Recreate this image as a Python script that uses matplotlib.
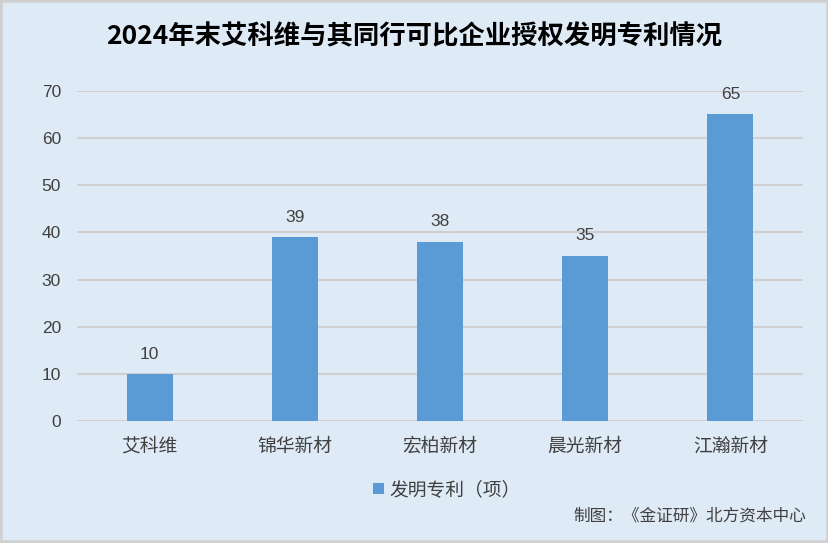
import matplotlib
matplotlib.use("Agg")
import matplotlib.pyplot as plt
from matplotlib.patches import Rectangle

plt.rcParams['font.family'] = ['Noto Sans CJK SC', 'DejaVu Sans']

categories = ["艾科维", "锦华新材", "宏柏新材", "晨光新材", "江瀚新材"]
values = [10, 39, 38, 35, 65]
series_name = "发明专利（项）"
title = "2024年末艾科维与其同行可比企业授权发明专利情况"
source = "制图：《金证研》北方资本中心"

bg = "#DEEAF6"
bar_color = "#5B9BD5"
num_font = ['Liberation Sans', 'Noto Sans CJK SC']

fig = plt.figure(figsize=(8.29, 5.43), dpi=100)
fig.patch.set_facecolor(bg)
fig.patches.append(Rectangle((0, 0), 1, 1, transform=fig.transFigure, fill=False,
                             edgecolor="#D0D0D0", linewidth=4, zorder=10))

ax = fig.add_axes([0.0929, 0.2241, 0.8758, 0.609])
ax.set_facecolor(bg)
x = list(range(len(categories)))
bars = ax.bar(x, values, width=0.317, color=bar_color, zorder=3, label=series_name)
ax.set_xlim(-0.5, len(categories) - 0.5)
ax.set_ylim(0, 70)
ax.set_yticks(range(0, 71, 10))
ax.grid(axis='y', color="#D0D0D0", linewidth=1.5, zorder=0)
for s in ax.spines.values():
    s.set_visible(False)
ax.tick_params(axis='both', length=0, colors="#404040")
ax.tick_params(axis='y', pad=11.5)
ax.tick_params(axis='x', pad=10.5)
for lbl in ax.get_yticklabels():
    lbl.set_family(num_font)
    lbl.set_fontsize(12.5)
ax.set_xticks(x)
ax.set_xticklabels(categories, fontsize=13.5)

for xi, v in zip(x, values):
    ax.annotate(str(v), (xi, v), xytext=(0, 9), textcoords='offset points',
                ha='center', va='bottom', fontsize=12.5, color="#404040", family=num_font)

fig.text(0.5, 0.932, title, ha='center', va='center', fontsize=19, fontweight='bold', color="#000000")

leg = fig.legend(handles=[bars], labels=[series_name], loc='center', bbox_to_anchor=(0.539, 0.098),
                 frameon=False, fontsize=13.5, handlelength=0.55, handleheight=0.55, handletextpad=0.3)
for t in leg.get_texts():
    t.set_color("#404040")

fig.text(0.972, 0.05, source, ha='right', va='center', fontsize=12, color="#404040")

fig.savefig("out.png", dpi=100, facecolor=bg)
